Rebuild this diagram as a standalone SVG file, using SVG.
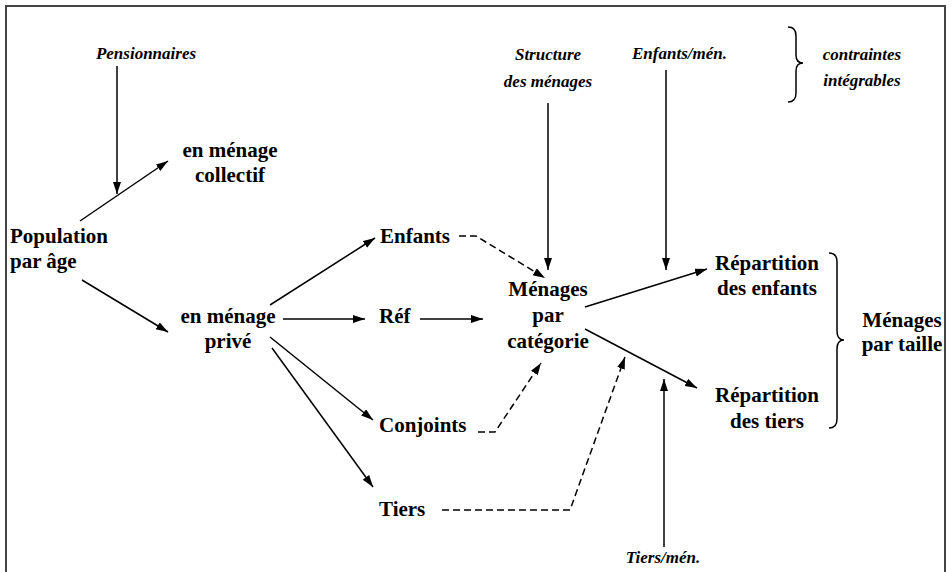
<svg xmlns="http://www.w3.org/2000/svg" width="952" height="572" viewBox="0 0 952 572">
<defs>
<marker id="ah" markerUnits="userSpaceOnUse" markerWidth="13" markerHeight="9" refX="12" refY="4" orient="auto">
<path d="M0,0 L12,4 L0,8 z" fill="#000"/>
</marker>
<style>
.b{font-family:"Liberation Serif","Times New Roman",serif;font-weight:bold;font-size:21px;fill:#000}
.i{font-family:"Liberation Serif","Times New Roman",serif;font-weight:bold;font-style:italic;font-size:17px;fill:#000}
.c{text-anchor:middle}
.l{fill:none;stroke:#000;stroke-width:1.5}
.a{marker-end:url(#ah)}
.d{stroke-dasharray:7 4}
.br{fill:none;stroke:#000;stroke-width:1.5}
</style>
</defs>
<rect width="952" height="572" fill="#fff"/>
<path d="M6,572 L6,6 L945,6 L945,572" fill="none" stroke="#444" stroke-width="2"/>

<g id="pensionnaires"><text class="i c" x="146" y="59">Pensionnaires</text></g>
<g id="collectif"><text class="b c" x="230" y="157">en ménage</text><text class="b c" x="230" y="182">collectif</text></g>
<g id="population"><text class="b" x="10" y="243">Population</text><text class="b" x="10" y="268">par âge</text></g>
<g id="prive"><text class="b c" x="228" y="323">en ménage</text><text class="b c" x="228" y="348">privé</text></g>
<g id="enfants"><text class="b" x="380" y="243">Enfants</text></g>
<g id="ref"><text class="b" x="379" y="323">Réf</text></g>
<g id="conjoints"><text class="b" x="379" y="432">Conjoints</text></g>
<g id="tiers"><text class="b" x="379" y="516">Tiers</text></g>
<g id="menages-cat"><text class="b c" x="548" y="296">Ménages</text><text class="b c" x="548" y="322">par</text><text class="b c" x="548" y="348">catégorie</text></g>
<g id="structure"><text class="i c" x="548" y="60">Structure</text><text class="i c" x="548" y="87">des ménages</text></g>
<g id="enfants-men"><text class="i" x="632" y="59">Enfants/mén.</text></g>
<g id="contraintes"><text class="i c" x="862" y="60">contraintes</text><text class="i c" x="862" y="86">intégrables</text>
<path class="br" d="M788,27 Q796,27 796,36 L796,55 Q796,63 803,63 Q796,63 796,71 L796,93 Q796,102 788,102"/></g>
<g id="rep-enfants"><text class="b c" x="767" y="270">Répartition</text><text class="b c" x="767" y="295">des enfants</text></g>
<g id="rep-tiers"><text class="b c" x="767" y="402">Répartition</text><text class="b c" x="767" y="428">des tiers</text></g>
<g id="menages-taille"><text class="b c" x="902" y="327">Ménages</text><text class="b c" x="902" y="351">par taille</text>
<path class="br" d="M829,253 Q837,253 837,262 L837,331 Q837,340 844,340 Q837,340 837,349 L837,419 Q837,428 829,428"/></g>
<g id="tiers-men"><text class="i c" x="663" y="563">Tiers/mén.</text></g>

<g id="connectors">
<line class="l a" x1="117" y1="66" x2="117" y2="194"/>
<line class="l a" x1="80" y1="221" x2="168" y2="161"/>
<line class="l a" x1="82" y1="280" x2="168" y2="332"/>
<line class="l a" x1="270" y1="305" x2="375" y2="238"/>
<line class="l a" x1="283" y1="319" x2="365" y2="319"/>
<line class="l a" x1="270" y1="337" x2="373" y2="420"/>
<line class="l a" x1="272" y1="348" x2="373" y2="487"/>
<line class="l a" x1="420" y1="319" x2="483" y2="319"/>
<polyline class="l a d" points="459,236 476,236 545,278"/>
<polyline class="l a d" points="478,432 495,432 541,363"/>
<polyline class="l a d" points="442,510 570,510 625,357"/>
<line class="l a" x1="548" y1="103" x2="548" y2="270"/>
<line class="l a" x1="666" y1="70" x2="666" y2="270"/>
<line class="l a" x1="585" y1="307" x2="707" y2="269"/>
<line class="l a" x1="585" y1="329" x2="697" y2="388"/>
<line class="l a" x1="664" y1="547" x2="664" y2="379"/>
</g>
</svg>
